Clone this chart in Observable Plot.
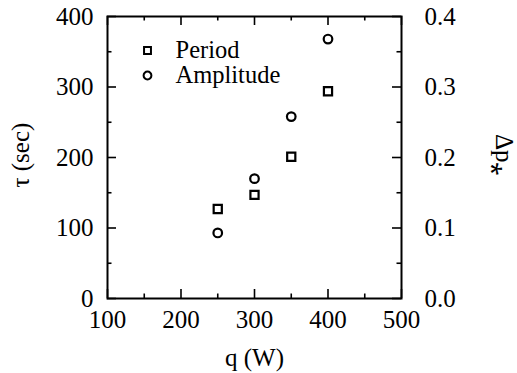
<!DOCTYPE html>
<html>
<head>
<meta charset="utf-8">
<script src="https://cdn.jsdelivr.net/npm/d3@7"></script>
<script src="https://cdn.jsdelivr.net/npm/@observablehq/plot@0.6"></script>
<style>
  html, body { margin: 0; padding: 0; background: #fff; }
  #chart svg { display: block; }
</style>
</head>
<body>
<div id="chart"></div>
<script>
// Data
const q = [250, 300, 350, 400];                     // heating power q (W)
const period = [127, 147, 201, 294];                // tau (sec), left axis
const amplitude = [0.093, 0.170, 0.258, 0.368];     // Δp*, right axis
const seriesNames = ["Period", "Amplitude"];
const seriesSymbols = ["square", "circle"];

const xTicks = [100, 200, 300, 400, 500];
const xMinor = [150, 250, 350, 450];
const yTicks = [0, 100, 200, 300, 400];
const yMinor = [50, 150, 250, 350];
const rightTickLabels = [0.0, 0.1, 0.2, 0.3, 0.4];
const rightScale = 1000; // right axis value * 1000 = left axis units

const periodData = q.map((x, i) => ({q: x, v: period[i]}));
const ampData = q.map((x, i) => ({q: x, v: amplitude[i] * rightScale}));
const legendData = seriesNames.map((name, i) => ({name, symbol: seriesSymbols[i]}));

const W = 517, H = 373;
const mL = 107, mR = 116, mT = 16, mB = 75;
const plotW = W - mL - mR, plotH = H - mT - mB;

const font = "Liberation Serif, Times New Roman, serif";
const fs = 25;
const tickStyle = {stroke: "#000", strokeWidth: 1.6};

// inward ticks drawn as short tick marks hugging each side of the frame
const ticksX = (values, len) => [
  Plot.tickX(values, {x: d => d, insetTop: plotH - len, ...tickStyle}),
  Plot.tickX(values, {x: d => d, insetBottom: plotH - len, ...tickStyle})
];
const ticksY = (values, len) => [
  Plot.tickY(values, {y: d => d, insetRight: plotW - len, ...tickStyle}),
  Plot.tickY(values, {y: d => d, insetLeft: plotW - len, ...tickStyle})
];

const legendMarks = legendData.map((d, i) => [
  Plot.dot([d], {frameAnchor: "top-left", dx: 40, dy: 34 + i * 25, symbol: "symbol", r: 3.9,
    stroke: "#000", strokeWidth: 2, fill: "#fff"}),
  Plot.text([d], {frameAnchor: "top-left", dx: 68, dy: 34 + i * 25, text: "name", fontSize: 24.5,
    textAnchor: "start", lineAnchor: "middle"})
]).flat();

const chart = Plot.plot({
  width: W,
  height: H,
  marginLeft: mL,
  marginRight: mR,
  marginTop: mT,
  marginBottom: mB,
  style: {fontFamily: font, background: "#fff", color: "#000"},
  x: {domain: [100, 500], label: null},
  y: {domain: [0, 400], label: null},
  marks: [
    Plot.axisX(xTicks, {anchor: "bottom", tickSize: 0, tickPadding: 12, fontSize: fs, label: null}),
    Plot.axisY(yTicks, {anchor: "left", tickSize: 0, tickPadding: 14, fontSize: fs, label: null}),
    Plot.axisY(yTicks, {anchor: "right", tickSize: 0, tickPadding: 23, fontSize: fs, label: null,
      tickFormat: (d, i) => rightTickLabels[i].toFixed(1)}),
    ...ticksX(xTicks, 9),
    ...ticksX(xMinor, 4.5),
    ...ticksY(yTicks, 9),
    ...ticksY(yMinor, 4.5),
    Plot.frame({stroke: "#000", strokeWidth: 2}),
    Plot.dot(periodData, {x: "q", y: "v", symbol: "square", r: 4.6, stroke: "#000", strokeWidth: 2.2, fill: "#fff"}),
    Plot.dot(ampData, {x: "q", y: "v", symbol: "circle", r: 4.3, stroke: "#000", strokeWidth: 2.2, fill: "#fff"}),
    ...legendMarks,
    Plot.text(["q (W)"], {frameAnchor: "bottom", dy: 59, text: d => d, fontSize: fs, lineAnchor: "middle"}),
    Plot.text(["τ (sec)"], {frameAnchor: "left", dx: -87, dy: 30, rotate: -90, text: d => d, fontSize: fs, lineAnchor: "middle"}),
    Plot.text(["Δp⁎"], {frameAnchor: "right", dx: 102, dy: 19, rotate: 90, text: d => d, fontSize: fs, lineAnchor: "middle"})
  ]
});

document.getElementById("chart").appendChild(chart);
</script>
</body>
</html>
